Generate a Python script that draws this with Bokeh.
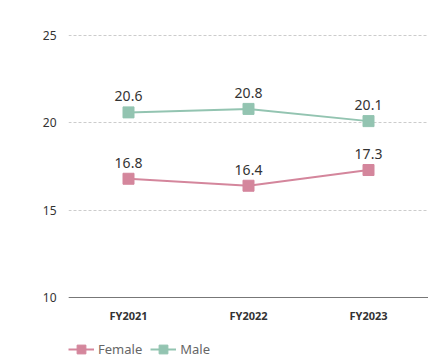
from bokeh.plotting import figure
from bokeh.models import ColumnDataSource, Legend, LegendItem, FixedTicker, LabelSet, Span
from bokeh.core.properties import value
from bokeh.embed import file_html
from bokeh.resources import INLINE

years = ["FY2021", "FY2022", "FY2023"]
female = [16.8, 16.4, 17.3]
male = [20.6, 20.8, 20.1]
y_ticks = [10, 15, 20, 25]

FONT = "Noto Sans"
PINK = "#d4869c"
GREEN = "#93c4b1"

# axis base at 10; extra room below the axis (inside the frame) holds the category labels and legend
p = figure(x_range=years, y_range=(6.393, 25.06), frame_width=360, frame_height=326,
           x_axis_location=None,
           output_backend="svg", toolbar_location=None,
           min_border_left=68, min_border_right=0, min_border_top=34, min_border_bottom=0)
p.outline_line_color = None
p.background_fill_color = "white"

src_f = ColumnDataSource(dict(x=years, y=female, t=[f"{v:.1f}" for v in female]))
src_m = ColumnDataSource(dict(x=years, y=male, t=[f"{v:.1f}" for v in male]))

lf = p.line("x", "y", source=src_f, line_color=PINK, line_width=2)
sf = p.scatter("x", "y", source=src_f, marker="square", size=11, fill_color=PINK, line_color=PINK)
lm = p.line("x", "y", source=src_m, line_color=GREEN, line_width=2)
sm = p.scatter("x", "y", source=src_m, marker="square", size=11, fill_color=GREEN, line_color=GREEN)

for src in (src_f, src_m):
    p.add_layout(LabelSet(x="x", y="y", text="t", source=src, y_offset=11,
                          text_align="center", text_baseline="bottom",
                          text_font=value(FONT), text_font_size="14px", text_color="#333333"))

# category axis: base line plus category labels
p.add_layout(Span(location=y_ticks[0], dimension="width", line_color="#777777", line_width=1))
src_cat = ColumnDataSource(dict(x=years, y=[y_ticks[0]] * len(years), t=years))
p.add_layout(LabelSet(x="x", y="y", text="t", source=src_cat, y_offset=-10,
                      text_align="center", text_baseline="top",
                      text_font=value(FONT), text_font_size="11px", text_font_style="bold",
                      text_color="#333333"))

p.yaxis.ticker = FixedTicker(ticks=y_ticks)
p.yaxis.axis_line_color = None
p.yaxis.major_tick_line_color = None
p.yaxis.minor_tick_line_color = None
p.yaxis.major_label_text_font = FONT
p.yaxis.major_label_text_font_size = "12px"
p.yaxis.major_label_text_color = "#333333"
p.yaxis.major_label_standoff = 6

p.xgrid.grid_line_color = None
p.ygrid.grid_line_color = "#cccccc"
p.ygrid.grid_line_dash = "3 2"

legend = Legend(items=[LegendItem(label="Female", renderers=[lf, sf]),
                       LegendItem(label="Male", renderers=[lm, sm])],
                orientation="horizontal", location="bottom_left",
                label_text_font=FONT, label_text_font_size="13px", label_text_color="#666666",
                glyph_width=26, glyph_height=22, spacing=8, label_standoff=4, label_height=16,
                padding=0, margin=0, border_line_color=None, background_fill_alpha=0)
p.add_layout(legend, "center")

open("out.html", "w").write(file_html(p, INLINE))
